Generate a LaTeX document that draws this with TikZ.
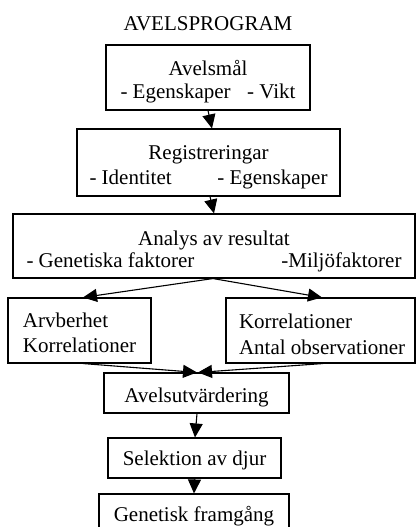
\documentclass[tikz,border=0pt]{standalone}
\usepackage{fontspec}
\setmainfont{Liberation Serif}
\usetikzlibrary{arrows.meta}
\begin{document}
\begin{tikzpicture}[x=1pt,y=-1pt,
  every node/.style={font=\fontsize{21}{24}\selectfont},
  bx/.style={draw=black, line width=1.1pt, inner sep=0pt},
  arr/.style={line width=1.1pt, -{Triangle[length=14pt,width=13pt]}},
]
\useasboundingbox (0,0) rectangle (416,527);
\clip (0,0) rectangle (416,527);
\node[anchor=base, inner sep=0pt] (title) at (208,30.7) {AVELSPROGRAM};

\node[bx, minimum width=204pt, text height=30.5pt, text depth=34.5pt] (b1) at (208,77.5)
  {\parbox[t]{175pt}{\fontsize{21}{22.5}\selectfont\centering Avelsmål\\- Egenskaper\hfill- Vikt}};

\node[bx, minimum width=263pt, text height=30.3pt, text depth=36.7pt] (b2) at (208.5,162.5)
  {\parbox[t]{238pt}{\fontsize{21}{25}\selectfont\centering Registreringar\\- Identitet\hfill- Egenskaper}};

\node[bx, minimum width=402pt, text height=31pt, text depth=33pt] (b3) at (214,246)
  {\parbox[t]{375pt}{\fontsize{21}{22.7}\selectfont\centering Analys av resultat\\- Genetiska faktorer\hfill-Miljöfaktorer}};

\node[bx, minimum width=143pt, text height=29pt, text depth=36pt] (l) at (79.5,330.5)
  {\parbox[t]{143pt}{\fontsize{21}{25.5}\selectfont\raggedright\leftskip=15pt Arvberhet\\Korrelationer}};

\node[bx, minimum width=189pt, text height=30pt, text depth=35pt] (r) at (320.5,330.5)
  {\parbox[t]{189pt}{\fontsize{21}{26}\selectfont\raggedright\leftskip=13pt Korrelationer\\Antal observationer}};

\node[bx, minimum width=185pt, text height=29.7pt, text depth=10.3pt] (e) at (196.5,393) {Avelsutvärdering};

\node[bx, minimum width=173pt, text height=27pt, text depth=13pt] (s) at (194.5,458) {Selektion av djur};

\node[bx, minimum width=190pt, text height=27.7pt, text depth=9.3pt] (g) at (194,512.5) {Genetisk framgång};

\draw[arr] (b1.south) -- ([xshift=3.5pt]b2.north);
\draw[arr] ([xshift=1.5pt]b2.south) -- (b3.north);
\draw[arr] ([xshift=-1pt]b3.south) -- ([xshift=3.5pt]l.north);
\draw[arr] ([xshift=-1pt]b3.south) -- ([xshift=1.5pt]r.north);
\draw[arr] ([xshift=3.5pt]l.south) -- ([xshift=0.5pt]e.north);
\draw[arr] ([xshift=2.5pt]r.south) -- ([xshift=1.5pt]e.north);
\draw[arr] ([xshift=0.5pt]e.south) -- ([xshift=0.5pt]s.north);
\draw[arr] (s.south) -- (g.north);
\end{tikzpicture}
\end{document}
